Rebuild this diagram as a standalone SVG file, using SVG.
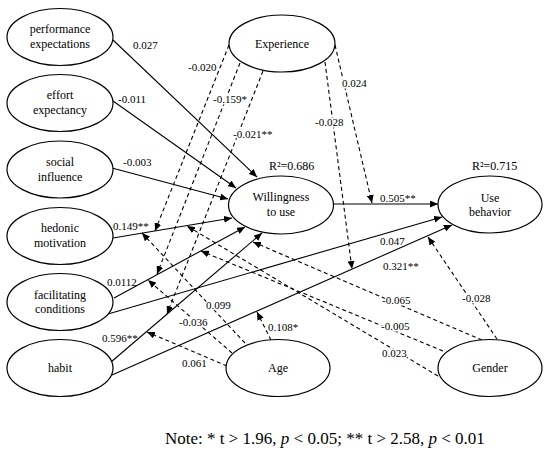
<svg xmlns="http://www.w3.org/2000/svg" width="550" height="454" viewBox="0 0 550 454">
<style>
.n ellipse{fill:#fff;stroke:#000;stroke-width:1.2}
.t{font-family:"Liberation Serif","Times New Roman",serif;font-size:12px;fill:#000;text-anchor:middle}
.c line{stroke:#000;stroke-width:1.1;fill:none}
.s{marker-end:url(#a)}
.d{stroke-dasharray:4 3;marker-end:url(#a)}
.l{font-family:"Liberation Serif","Times New Roman",serif;font-size:11px;fill:#000}
.r{font-family:"Liberation Serif","Times New Roman",serif;font-size:12px;fill:#000}
.h{stroke:#fff;stroke-width:3;paint-order:stroke;stroke-linejoin:round}
.note{font-family:"Liberation Serif","Times New Roman",serif;font-size:17px;fill:#000}
</style>
<defs>
<marker id="a" markerUnits="userSpaceOnUse" markerWidth="9" markerHeight="7" refX="8" refY="3.5" orient="auto"><path d="M0,0 L8,3.5 L0,7 z" fill="#000"/></marker>
</defs>
<g id="connectors" class="c">
<line class="s" x1="113" y1="40" x2="257" y2="177"/>
<line class="s" x1="113" y1="101" x2="236" y2="188"/>
<line class="s" x1="112" y1="168" x2="228" y2="199"/>
<line class="s" x1="113" y1="238" x2="232" y2="218"/>
<line class="s" x1="114" y1="298" x2="245" y2="227"/>
<line class="s" x1="111" y1="362" x2="262" y2="233"/>
<line class="s" x1="108" y1="314" x2="442" y2="217"/>
<line class="s" x1="112" y1="375" x2="452" y2="225"/>
<line class="s" x1="334" y1="204" x2="438" y2="204"/>
<line class="d" x1="229" y1="45" x2="155" y2="231"/>
<line class="d" x1="240" y1="63" x2="157" y2="274"/>
<line class="d" x1="263" y1="71" x2="167" y2="314"/>
<line class="d" x1="325" y1="62" x2="352" y2="269"/>
<line class="d" x1="335" y1="45" x2="372" y2="203"/>
<line class="d" x1="245" y1="343" x2="142" y2="233"/>
<line class="d" x1="232" y1="353" x2="148" y2="280"/>
<line class="d" x1="227" y1="366" x2="147" y2="332"/>
<line class="d" x1="271" y1="340" x2="257" y2="312"/>
<line class="d" x1="482" y1="340" x2="253" y2="242"/>
<line class="d" x1="443" y1="351" x2="201" y2="251"/>
<line class="d" x1="438" y1="376" x2="187" y2="226"/>
<line class="d" x1="497" y1="339" x2="428" y2="237"/>
</g>
<g id="performance" class="n"><ellipse cx="60" cy="37" rx="53" ry="28.5"/><text class="t" x="60" y="33">performance</text><text class="t" x="60" y="48">expectations</text></g>
<g id="effort" class="n"><ellipse cx="60" cy="103" rx="53" ry="28.5"/><text class="t" x="60" y="99">effort</text><text class="t" x="60" y="114">expectancy</text></g>
<g id="social" class="n"><ellipse cx="60" cy="169.5" rx="53" ry="28.5"/><text class="t" x="60" y="166">social</text><text class="t" x="60" y="181">influence</text></g>
<g id="hedonic" class="n"><ellipse cx="60" cy="236" rx="53" ry="28.5"/><text class="t" x="60" y="232">hedonic</text><text class="t" x="60" y="247">motivation</text></g>
<g id="facilitating" class="n"><ellipse cx="60" cy="302" rx="53" ry="28.5"/><text class="t" x="60" y="299">facilitating</text><text class="t" x="60" y="313">conditions</text></g>
<g id="habit" class="n"><ellipse cx="60" cy="368" rx="53" ry="28.5"/><text class="t" x="60" y="372">habit</text></g>
<g id="experience" class="n"><ellipse cx="282" cy="43.5" rx="53" ry="28.5"/><text class="t" x="282" y="48">Experience</text></g>
<g id="willingness" class="n"><ellipse cx="281" cy="205" rx="52.5" ry="29"/><text class="t" x="281" y="201">Willingness</text><text class="t" x="281" y="216">to use</text><text class="r" x="269" y="170">R²=0.686</text></g>
<g id="use" class="n"><ellipse cx="490" cy="204.5" rx="52" ry="28.5"/><text class="t" x="490" y="202">Use</text><text class="t" x="490" y="216">behavior</text><text class="r" x="472" y="170">R²=0.715</text></g>
<g id="age" class="n"><ellipse cx="278" cy="368" rx="52" ry="28.5"/><text class="t" x="278" y="372">Age</text></g>
<g id="gender" class="n"><ellipse cx="490" cy="368" rx="52" ry="28.5"/><text class="t" x="490" y="372">Gender</text></g>
<g id="labels">
<text class="l" x="133" y="49">0.027</text>
<text class="l" x="118" y="103">-0.011</text>
<text class="l" x="123" y="166">-0.003</text>
<text class="l" x="113" y="230">0.149**</text>
<text class="l" x="107" y="286">0.0112</text>
<text class="l" x="102" y="342">0.596**</text>
<text class="l" x="380" y="202">0.505**</text>
<text class="l" x="380" y="245">0.047</text>
<text class="l" x="383" y="270">0.321**</text>
<text class="l h" x="188" y="71">-0.020</text>
<text class="l h" x="213" y="103">-0.159*</text>
<text class="l h" x="233" y="138">-0.021**</text>
<text class="l h" x="342" y="87">0.024</text>
<text class="l h" x="315" y="126">-0.028</text>
<text class="l h" x="206" y="309">0.099</text>
<text class="l h" x="179" y="326">-0.036</text>
<text class="l h" x="268" y="331">0.108*</text>
<text class="l h" x="182" y="367">0.061</text>
<text class="l h" x="382" y="304">-0.065</text>
<text class="l h" x="381" y="330">-0.005</text>
<text class="l h" x="382" y="357">0.023</text>
<text class="l h" x="462" y="302">-0.028</text>
<text class="note" x="165" y="444">Note: * t &gt; 1.96, <tspan font-style="italic">p</tspan> &lt; 0.05; ** t &gt; 2.58, <tspan font-style="italic">p</tspan> &lt; 0.01</text>
</g>
</svg>
